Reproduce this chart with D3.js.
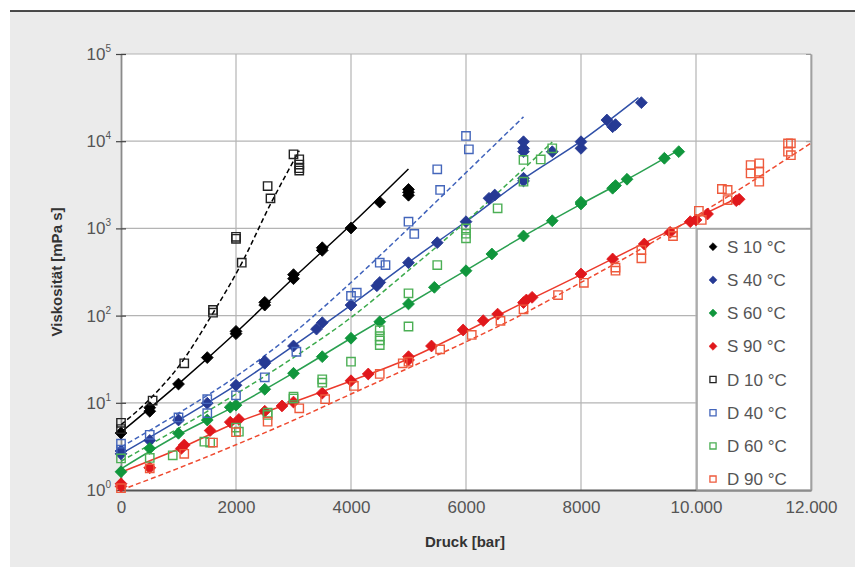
<!DOCTYPE html>
<html>
  <head>
    <meta charset="utf-8" />
    <title>Viskosität vs Druck</title>
    <script src="https://d3js.org/d3.v7.min.js"></script>
    <style>
      body { margin: 0; background: #fff; }
      text { font-family: "Liberation Sans", Arial, sans-serif; }
    </style>
  </head>
  <body>
    <svg id="chart" width="855" height="567"></svg>

    <script>
      // measured points [Druck bar, Viskosität mPa s]
      var s10 = [[0,4.5],[500,8.0],[500,8.8],[1000,16.4],[1500,33],[2000,62],[2000,66],[2500,132],[2500,142],
        [3000,265],[3000,295],[3500,560],[3500,600],[4000,1010],[4500,2000],[5000,2400],[5000,2600],[5000,2800]];
      var s40 = [[0,2.6],[0,2.8],[500,3.7],[1000,6.35],[1500,9.9],[2000,15.9],[2500,28.4],[2500,30],[3000,44.8],
        [3400,70],[3500,83],[4000,132],[4450,220],[4500,240],[5000,404],[5500,686],[6000,1194],[6400,2214],
        [6500,2414],[7000,3500],[7000,3760],[7000,7580],[7000,8280],[7000,9860],[7500,7580],[8000,8280],
        [8000,9870],[8450,17500],[8550,14660],[8600,15500],[9050,27660]];
      var s60 = [[0,1.62],[500,3.0],[1000,4.47],[1500,6.35],[1900,8.9],[2000,9.4],[2500,14.3],[3000,21.8],
        [3500,33.8],[4000,55],[4500,85],[5000,136],[5450,211],[6000,327],[6450,509],[7000,818],[7500,1225],
        [8000,1906],[8000,2000],[8550,2890],[8600,3100],[8800,3660],[9450,6370],[9700,7590]];
      var s90 = [[0,1.1],[0,1.18],[500,1.8],[1050,3.0],[1100,3.28],[1550,4.8],[1900,6.0],[2050,6.46],[2500,8.0],
        [2800,9.2],[3000,10.2],[3500,12.9],[4000,17.9],[4300,21.4],[5000,33.8],[5000,31],[5400,44.8],
        [5950,68.4],[6300,87.5],[6550,104],[7000,141],[7050,151],[7150,162],[8000,300],[8550,446],[9100,662],
        [9550,902],[9900,1194],[10000,1250],[10200,1463],[10700,2080],[10750,2160]];
      var d10 = [[0,5.9],[0,5.0],[550,10.6],[1100,28.4],[1600,108],[1600,116],[2000,760],[2000,800],[2100,404],
        [2550,3060],[2600,2210],[3000,7080],[3100,6200],[3100,5400],[3100,4900],[3100,4600]];
      var d40 = [[0,3.4],[0,2.9],[500,4.3],[1000,6.8],[1500,11],[1500,7.6],[2000,12.2],[2500,19.6],[3050,38.5],
        [4000,168],[4100,183],[4500,404],[4600,380],[5000,1194],[5100,863],[5500,4760],[5550,2760],
        [6000,11480],[6050,8070]];
      var d60 = [[0,2.3],[500,2.33],[900,2.5],[1450,3.58],[1550,3.5],[2000,5.2],[2050,4.66],[2550,7.7],
        [2550,7.25],[3000,11.75],[3000,11.2],[3500,18.6],[3500,17],[4000,29.6],[4500,68],[4500,58],[4500,52],
        [4500,46],[5000,180],[5000,75],[5500,380],[6000,1000],[6000,870],[6000,770],[6550,1700],[7000,3430],
        [7000,6090],[7300,6180],[7500,8280]];
      var d90 = [[0,1.05],[500,1.77],[1100,2.6],[1600,3.5],[2000,4.6],[2550,6.07],[3100,8.65],[3550,11],
        [4050,15.6],[4500,21.4],[4900,28.4],[5000,29.6],[5550,41],[6100,60],[6600,87],[7000,118],[7600,172],
        [8050,238],[8600,327],[8600,355],[9050,454],[9050,565],[9600,818],[9600,900],[10050,1590],[10100,1250],
        [10450,2830],[10550,2760],[10550,2115],[10950,5330],[10950,4270],[11100,5580],[11100,4470],
        [11100,3430],[11600,9440],[11650,9440],[11600,7590],[11650,6920]];

      // fitted curves
      var s10Fit = [[0,4.6],[1000,16.5],[2000,64],[3000,270],[4000,1100],[5000,4800]];
      var s40Fit = [[0,2.6],[1000,6.3],[2000,15.9],[3000,45],[4000,132],[5000,407],[6000,1200],[7000,3700],[8000,10000],[9000,31600]];
      var s60Fit = [[0,1.75],[1000,4.3],[2000,9.3],[3000,22],[4000,55],[5000,135],[6000,330],[7000,815],[8000,1900],[9000,4300],[9700,7900]];
      var s90Fit = [[0,1.6],[1000,2.95],[2000,5.9],[3000,10.2],[4000,17.8],[5000,32],[6000,66],[7000,141],[8000,295],[9000,630],[10000,1320],[10700,2200]];
      var d10Fit = [[0,5.6],[500,11],[1000,26],[1600,107],[2100,400],[2600,1900],[3100,7800]];
      var d40Fit = [[0,3.1],[1000,7.6],[2000,20],[3000,63],[4000,240],[5000,1000],[6000,4360],[7000,19000]];
      var d60Fit = [[0,2.14],[1000,5.1],[2000,12.6],[3000,33],[4000,95],[5000,330],[6000,1200],[7000,4800],[7500,9800]];
      var d90Fit = [[0,1.0],[1000,1.78],[2000,3.3],[3000,6.3],[4000,12.6],[5000,25],[6000,50],[7000,105],[8000,240],[9000,560],[10000,1380],[11000,3550],[12000,9500]];

      var xTicks = [0, 2000, 4000, 6000, 8000, 10000, 12000];
      var xTickLabels = ["0", "2000", "4000", "6000", "8000", "10.000", "12.000"];
      var yExponents = [0, 1, 2, 3, 4, 5];

      var series = [
        { name: "S 10 °C", pts: s10, fit: s10Fit, type: "S", color: "#000000", line: "#000000" },
        { name: "S 40 °C", pts: s40, fit: s40Fit, type: "S", color: "#263a94", line: "#3050a8" },
        { name: "S 60 °C", pts: s60, fit: s60Fit, type: "S", color: "#10963c", line: "#2aa050" },
        { name: "S 90 °C", pts: s90, fit: s90Fit, type: "S", color: "#e0181c", line: "#ec3a2c" },
        { name: "D 10 °C", pts: d10, fit: d10Fit, type: "D", color: "#222222", line: "#000000" },
        { name: "D 40 °C", pts: d40, fit: d40Fit, type: "D", color: "#4466bb", line: "#3f62bb" },
        { name: "D 60 °C", pts: d60, fit: d60Fit, type: "D", color: "#4caf55", line: "#3caa4c" },
        { name: "D 90 °C", pts: d90, fit: d90Fit, type: "D", color: "#ee5a3c", line: "#ef4a30" }
      ];

      var pLeft = 121, pRight = 811, pTop = 54, pBottom = 490;

      var svg = d3.select("#chart");

      // page frame
      svg.append("rect").attr("x", 10).attr("y", 11).attr("width", 845).attr("height", 556).attr("fill", "#ebebeb");
      svg.append("line").attr("x1", 10).attr("x2", 855).attr("y1", 11).attr("y2", 11)
        .attr("stroke", "#111").attr("stroke-width", 1.5);

      var x = d3.scaleLinear().domain([0, 12000]).range([pLeft, pRight]);
      var y = d3.scaleLog().domain([1, 1e5]).range([pBottom, pTop]);

      svg.append("rect").attr("x", pLeft).attr("y", pTop)
        .attr("width", pRight - pLeft).attr("height", pBottom - pTop).attr("fill", "#fff");

      // grid
      var grid = svg.append("g").attr("stroke", "#b4b4b4").attr("stroke-width", 1.2);
      grid.selectAll(".gx").data(xTicks.slice(1)).enter().append("line")
        .attr("x1", function (d) { return x(d); }).attr("x2", function (d) { return x(d); })
        .attr("y1", pTop).attr("y2", pBottom);
      grid.selectAll(".gy").data(yExponents.slice(1)).enter().append("line")
        .attr("x1", pLeft).attr("x2", pRight)
        .attr("y1", function (d) { return y(Math.pow(10, d)); })
        .attr("y2", function (d) { return y(Math.pow(10, d)); });

      // axes
      var yAxis = d3.axisLeft(y)
        .tickValues(yExponents.map(function (e) { return Math.pow(10, e); }))
        .tickSizeInner(5).tickSizeOuter(0).tickFormat("");
      svg.append("g").attr("transform", "translate(" + pLeft + ",0)").call(yAxis)
        .call(function (g) {
          g.select(".domain").attr("stroke", "#8a8a8a").attr("stroke-width", 1.8);
          g.selectAll(".tick line").attr("stroke", "#444").attr("x2", -5).attr("x1", 5).attr("stroke-width", 1.2);
        });

      var yRight = d3.axisRight(y)
        .tickValues(yExponents.map(function (e) { return Math.pow(10, e); }))
        .tickSizeInner(-5).tickSizeOuter(0).tickFormat("");
      svg.append("g").attr("transform", "translate(" + pRight + ",0)").call(yRight)
        .call(function (g) {
          g.select(".domain").attr("stroke", "#a0a0a0").attr("stroke-width", 1.8);
          g.selectAll(".tick line").attr("stroke", "#999");
        });

      var xAxis = d3.axisBottom(x).tickValues(xTicks).tickSize(0)
        .tickFormat(function (d, i) { return xTickLabels[i]; });
      svg.append("g").attr("transform", "translate(0," + pBottom + ")").call(xAxis)
        .call(function (g) {
          g.select(".domain").attr("stroke", "#555").attr("stroke-width", 1.8);
          g.selectAll(".tick text").attr("dy", 0).attr("y", 23)
            .attr("font-size", 17).attr("fill", "#555").attr("font-family", "Liberation Sans, Arial, sans-serif");
        });

      // y tick labels 10^n
      var ylab = svg.append("g").selectAll("text").data(yExponents).enter().append("text")
        .attr("x", 111).attr("y", function (d) { return y(Math.pow(10, d)) + 6; })
        .attr("text-anchor", "end").attr("font-size", 17).attr("fill", "#555");
      ylab.append("tspan").text("10");
      ylab.append("tspan").attr("dy", -8).attr("font-size", 10).text(function (d) { return d; });

      // axis titles
      svg.append("text").attr("x", (pLeft + pRight) / 2 - 1).attr("y", 547).attr("text-anchor", "middle")
        .attr("font-size", 15).attr("font-weight", "bold").attr("fill", "#333").text("Druck [bar]");
      svg.append("text").attr("transform", "translate(62,272) rotate(-90)").attr("text-anchor", "middle")
        .attr("font-size", 15).attr("font-weight", "bold").attr("fill", "#333").text("Viskosität [mPa s]");

      // fit lines
      svg.append("clipPath").attr("id", "plot").append("rect")
        .attr("x", pLeft).attr("y", pTop).attr("width", pRight - pLeft).attr("height", pBottom - pTop);
      var line = d3.line()
        .x(function (d) { return x(d[0]); })
        .y(function (d) { return y(d[1]); })
        .curve(d3.curveMonotoneX);
      var plot = svg.append("g").attr("clip-path", "url(#plot)");
      plot.selectAll(".fit").data(series).enter().append("path")
        .attr("d", function (s) { return line(s.fit); })
        .attr("fill", "none")
        .attr("stroke", function (s) { return s.line; })
        .attr("stroke-width", 1.5)
        .attr("stroke-dasharray", function (s) { return s.type === "D" ? "5,3" : null; });

      // markers
      var diamond = d3.symbol().type(d3.symbolSquare).size(70);
      var square = d3.symbol().type(d3.symbolSquare).size(70);
      series.forEach(function (s) {
        var g = svg.append("g");
        g.selectAll("path").data(s.pts).enter().append("path")
          .attr("transform", function (d) {
            return "translate(" + x(d[0]) + "," + y(d[1]) + ")" + (s.type === "S" ? " rotate(45)" : "");
          })
          .attr("d", s.type === "S" ? diamond() : square())
          .attr("fill", s.type === "S" ? s.color : "none")
          .attr("stroke", s.color)
          .attr("stroke-width", s.type === "S" ? 0.8 : 1.4);
      });

      // legend
      var lg = svg.append("g");
      lg.append("rect").attr("x", 697).attr("y", 229).attr("width", 114).attr("height", 261)
        .attr("fill", "#fff").attr("stroke", "#a0a0a0").attr("stroke-width", 1.5);
      var item = lg.selectAll(".item").data(series).enter().append("g")
        .attr("transform", function (d, i) { return "translate(713," + (246.7 + i * 33.2) + ")"; });
      item.append("path")
        .attr("transform", function (s) { return s.type === "S" ? "rotate(45)" : null; })
        .attr("d", function (s) { return s.type === "S" ? d3.symbol().type(d3.symbolSquare).size(32)() : d3.symbol().type(d3.symbolSquare).size(38)(); })
        .attr("fill", function (s) { return s.type === "S" ? s.color : "none"; })
        .attr("stroke", function (s) { return s.color; })
        .attr("stroke-width", function (s) { return s.type === "S" ? 0.5 : 1.3; });
      item.append("text").attr("x", 14).attr("y", 6).attr("font-size", 17).attr("fill", "#555")
        .text(function (s) { return s.name; });
    </script>
  </body>
</html>
